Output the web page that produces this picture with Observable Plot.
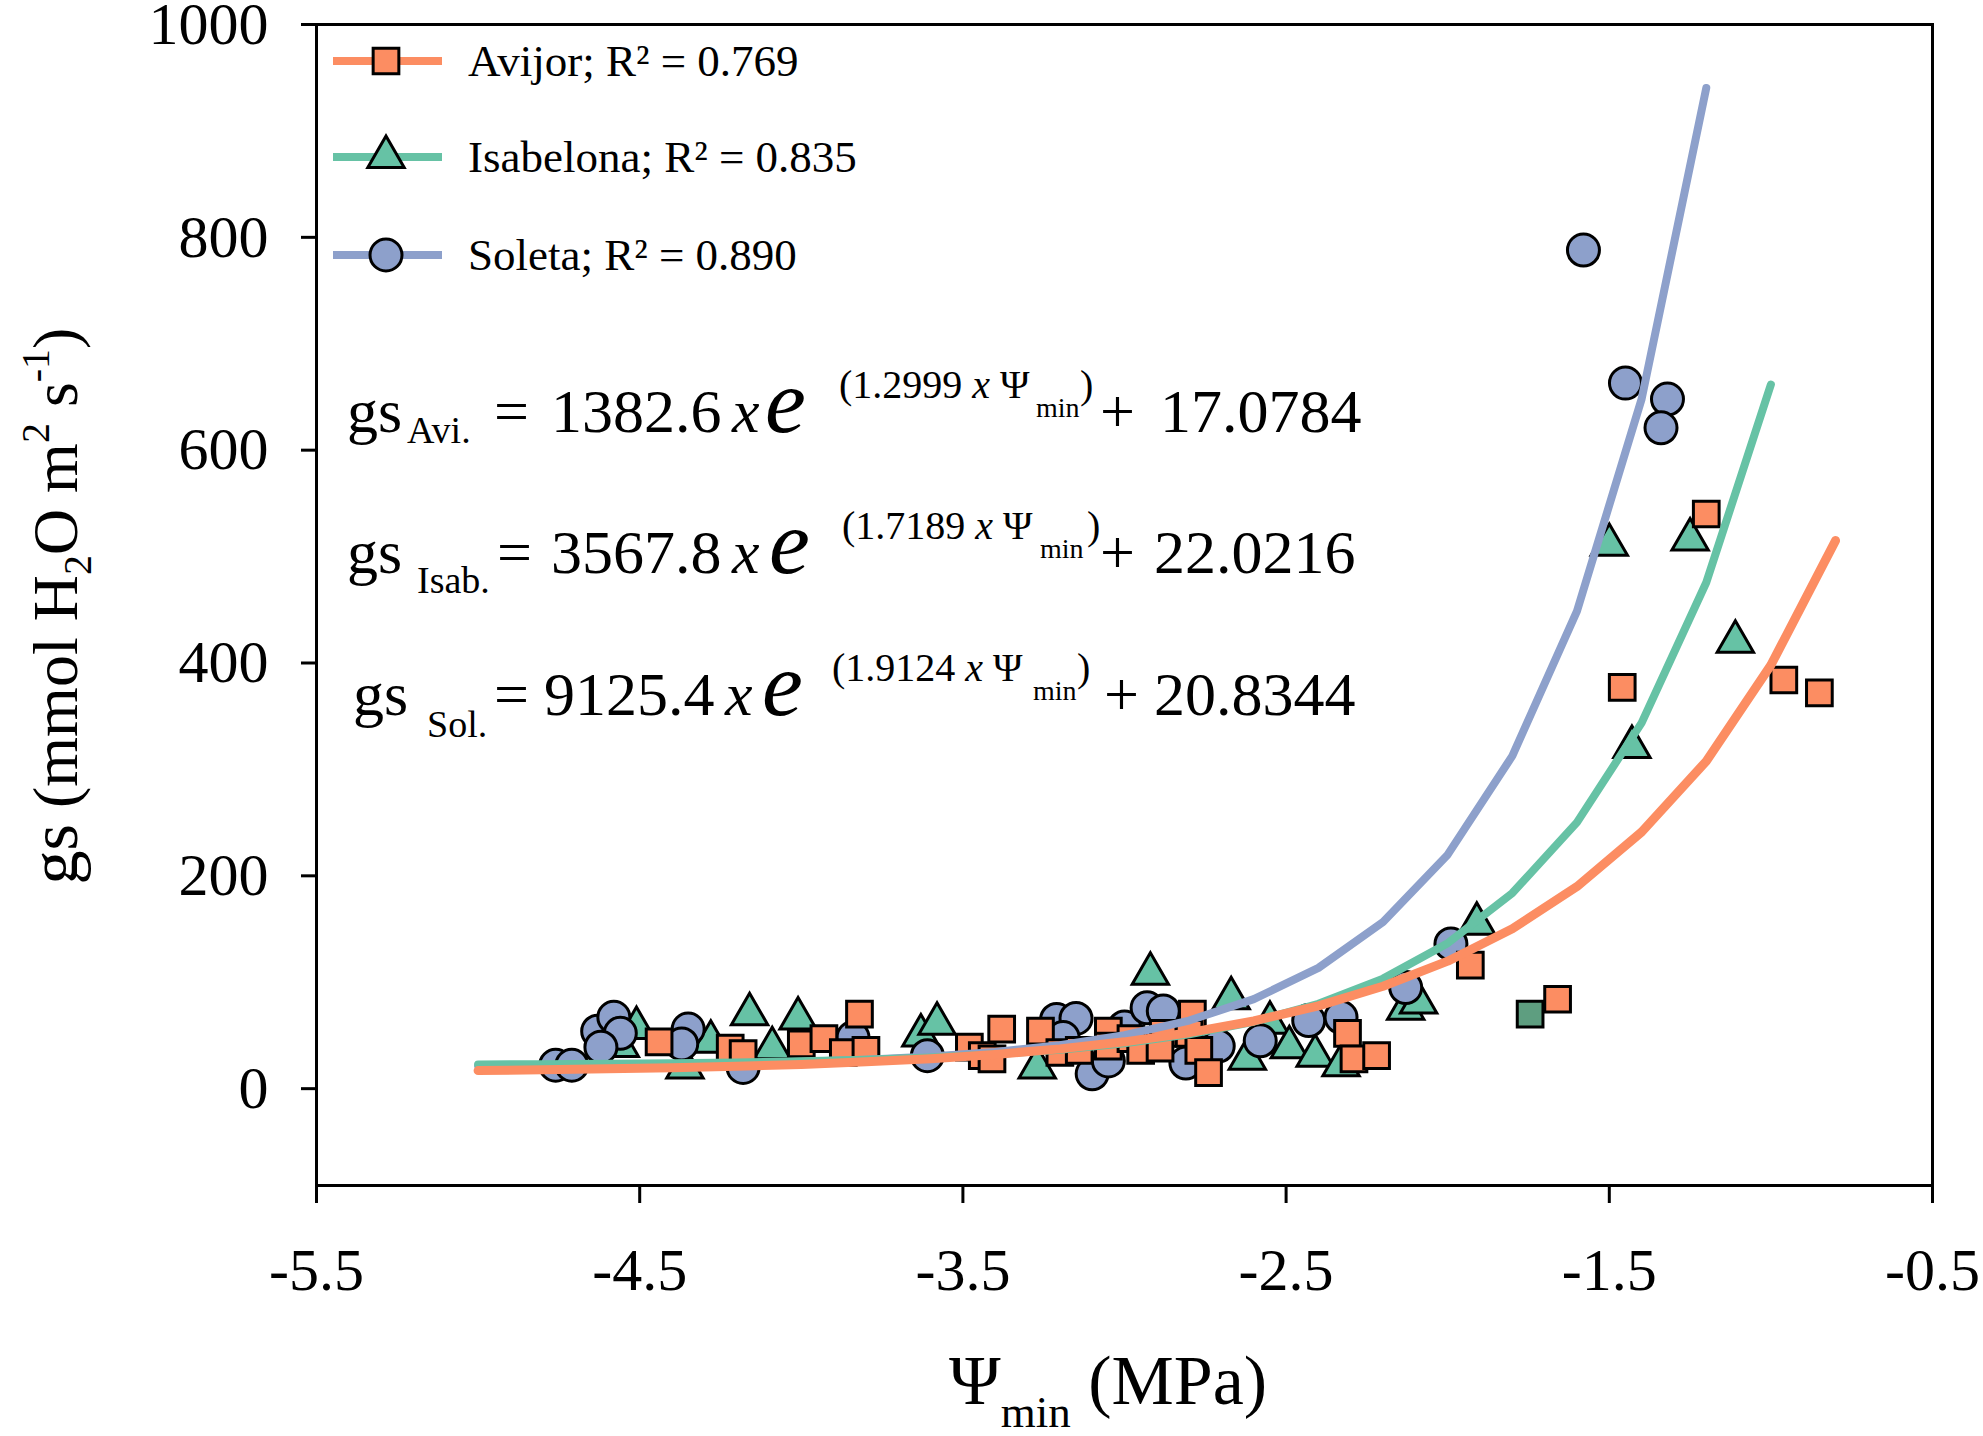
<!DOCTYPE html>
<html><head><meta charset="utf-8">
<script src="https://cdn.jsdelivr.net/npm/d3@7"></script>
<script src="https://cdn.jsdelivr.net/npm/@observablehq/plot@0.6"></script>
<style>body{margin:0;background:#fff;} svg{display:block}</style>
</head><body><div id="chart"></div>
<script>
// ---- data ----
const xTicks = [-5.5, -4.5, -3.5, -2.5, -1.5, -0.5];
const yTicks = [0, 200, 400, 600, 800, 1000];
const cultivars = ["Avijor", "Isabelona", "Soleta"];
const r2Values = ["0.769", "0.835", "0.890"];
const colors = ["#FC8D62", "#66C2A5", "#8DA0CB"];

const avijorX = [-4.44,-4.22,-4.18,-4.00,-3.93,-3.82,-3.87,-3.80,-3.48,-3.44,-3.41,-3.38,-3.26,-3.20,-3.14,-3.05,-3.05,-2.98,-2.95,-2.88,-2.89,-2.79,-2.80,-2.77,-2.74,-2.31,-2.29,-2.22,-1.93,-1.66,-1.46,-1.20,-0.96,-0.85];
const avijorY = [44,38,33,42,47,70,34,36,39,31,28,56,54,34,36,54,40,47,36,52,38,70,52,36,15,52,28,31,116,84,377,540,384,372];
const oddX = [-1.745];
const oddY = [70];

const isabX = [-4.56,-4.51,-4.36,-4.28,-4.16,-4.09,-4.01,-3.63,-3.58,-3.27,-2.92,-2.67,-2.62,-2.55,-2.49,-2.41,-2.33,-2.13,-2.09,-1.91,-1.50,-1.25,-1.11,-1.43];
const isabY = [40,57,20,44,70,38,66,50,61,20,108,85,28,62,39,31,22,75,81,155,511,516,420,321];

const solX = [-4.76,-4.71,-4.63,-4.58,-4.56,-4.62,-4.35,-4.37,-4.18,-3.84,-3.61,-3.21,-3.15,-3.19,-3.10,-3.05,-3.00,-2.93,-2.88,-2.81,-2.74,-2.71,-2.58,-2.43,-2.33,-2.13,-1.99,-1.58,-1.45,-1.32,-1.34];
const solY = [22,22,54,67,52,39,56,42,20,48,31,65,66,48,14,26,58,76,73,24,42,40,45,64,67,95,136,788,663,648,621];

// fitted curves as drawn (sampled every 0.2 MPa)
const fitX = [-5.0,-4.8,-4.6,-4.4,-4.2,-4.0,-3.8,-3.6,-3.4,-3.2,-3.0,-2.8,-2.6,-2.4,-2.2,-2.0,-1.8,-1.6,-1.4,-1.2,-1.0,-0.8];
const avijorFit = [17.0,17.8,18.6,19.6,21.0,22.8,25.2,28.2,32.2,37.4,44.0,52.6,63.6,77.8,96.3,119.8,150.3,189.9,241.2,307.7,398.0,515.0];
const isabFit = [22.7,23.0,23.3,23.9,24.6,25.7,27.2,29.4,32.4,36.6,42.6,51.0,62.9,79.7,103.4,136.7,183.8,250.2,343.8,475.6,661.7];
const solFit = [21.5,21.8,22.2,22.9,23.8,25.2,27.2,30.2,34.5,40.9,50.3,64.0,84.1,113.5,156.7,219.9,312.7,448.7,648.1,940.3];

const eqSubs = ["Avi.", "Isab.", "Sol."];
const eqA = ["1382.6", "3567.8", "9125.4"];
const eqB = ["1.2999", "1.7189", "1.9124"];
const eqC = ["17.0784", "22.0216", "20.8344"];

// ---- tables ----
const pts = (xs, ys) => xs.map((x, i) => ({x, y: ys[i]}));
const avijor = pts(avijorX, avijorY);
const odd = pts(oddX, oddY);
const isab = pts(isabX, isabY);
const sol = pts(solX, solY);
const avijorLine = pts(fitX.slice(0, avijorFit.length), avijorFit);
const isabLine = pts(fitX.slice(0, isabFit.length), isabFit);
const solLine = pts(fitX.slice(0, solFit.length), solFit);

const FONT = "Liberation Serif";
const rSq = 14.5, rCi = 16, rTr = 13.5;

const svg = Plot.plot({
  width: 1983, height: 1436,
  marginLeft: 316, marginRight: 51, marginTop: 24, marginBottom: 251,
  style: {fontFamily: FONT, fontSize: "60px", background: "#fff", color: "#000"},
  x: {domain: [-5.5, -0.5], label: null},
  y: {domain: [-91, 1000], label: null},
  marks: [
    Plot.axisX({ticks: xTicks, tickFormat: d => d.toFixed(1), tickSize: 18, tickPadding: 44, strokeWidth: 3, fontSize: 60, label: null}),
    Plot.axisY({ticks: yTicks, tickFormat: d => String(d), tickSize: 15, tickPadding: 33, strokeWidth: 3, fontSize: 60, label: null}),
    Plot.dot(isab, {x: "x", y: "y", symbol: "triangle", r: rTr, fill: colors[1], stroke: "#000", strokeWidth: 3}),
    Plot.dot(sol, {x: "x", y: "y", symbol: "circle", r: rCi, fill: colors[2], stroke: "#000", strokeWidth: 3}),
    Plot.dot(avijor, {x: "x", y: "y", symbol: "square", r: rSq, fill: colors[0], stroke: "#000", strokeWidth: 3}),
    Plot.dot(odd, {x: "x", y: "y", symbol: "square", r: rSq, fill: "#5E9E80", stroke: "#000", strokeWidth: 3}),
    Plot.line(solLine, {x: "x", y: "y", stroke: colors[2], strokeWidth: 8}),
    Plot.line(isabLine, {x: "x", y: "y", stroke: colors[1], strokeWidth: 8}),
    Plot.line(avijorLine, {x: "x", y: "y", stroke: colors[0], strokeWidth: 9}),
    Plot.frame({stroke: "#000", strokeWidth: 3})
  ]
});
document.getElementById("chart").appendChild(svg);

// ---- annotations (legend, equations, axis titles) ----
const s = d3.select(svg);
const ann = s.append("g").attr("text-anchor", "start").attr("font-family", FONT).attr("fill", "#000");

// legend
const legRows = [61, 157, 255];
const legSym = [d3.symbolSquare, d3.symbolTriangle, d3.symbolCircle];
const legR = [rSq, rTr, rCi];
cultivars.forEach((name, i) => {
  const y = legRows[i];
  ann.append("line").attr("x1", 333).attr("x2", 442).attr("y1", y).attr("y2", y)
    .attr("stroke", colors[i]).attr("stroke-width", 8);
  ann.append("path").attr("transform", `translate(386,${y})`)
    .attr("d", d3.symbol(legSym[i], Math.PI * legR[i] * legR[i])())
    .attr("fill", colors[i]).attr("stroke", "#000").attr("stroke-width", 3);
  ann.append("text").attr("x", 468).attr("y", y + 15).attr("font-size", 45)
    .text(`${name}; R² = ${r2Values[i]}`);
});

// equations
const eqLayout = [
  {y: 432, gs: 347, sub: 407, subDy: 11, eq: 494, a: 551, x: 732, e: 765, sup: 839, min: 1036, close: 1080, plus: 1100, c: 1160},
  {y: 573, gs: 347, sub: 417, subDy: 20, eq: 497, a: 551, x: 732, e: 769, sup: 842, min: 1040, close: 1087, plus: 1100, c: 1154},
  {y: 715, gs: 353, sub: 427, subDy: 22, eq: 494, a: 544, x: 725, e: 762, sup: 832, min: 1033, close: 1077, plus: 1104, c: 1154}
];
eqLayout.forEach((L, i) => {
  const t = ann.append("text").attr("font-size", 62);
  const sp = (x, y, txt, size, italic) => {
    const ts = t.append("tspan").attr("x", x).attr("y", y).text(txt);
    if (size) ts.attr("font-size", size);
    if (italic) ts.attr("font-style", "italic");
    return ts;
  };
  sp(L.gs, L.y, "gs");
  sp(L.sub, L.y + L.subDy, eqSubs[i], 38);
  sp(L.eq, L.y, "=");
  sp(L.a, L.y, eqA[i]);
  sp(L.x, L.y, "x", null, true);
  sp(L.e, L.y, "e", 92, true);
  sp(L.sup, L.y - 34, `(${eqB[i]} `, 40);
  t.append("tspan").attr("font-size", 40).attr("font-style", "italic").text("x");
  t.append("tspan").attr("font-size", 40).text(" Ψ");
  sp(L.min, L.y - 15, "min", 28);
  sp(L.close, L.y - 34, ")", 40);
  sp(L.plus, L.y, "+");
  sp(L.c, L.y, eqC[i]);
});

// x axis title
const xt = ann.append("text").attr("font-size", 70).attr("x", 949).attr("y", 1404);
xt.append("tspan").text("Ψ");
xt.append("tspan").attr("font-size", 45).attr("dy", 23).text("min");
xt.append("tspan").attr("dy", -23).text(" (MPa)");

// y axis title
const yt = ann.append("text").attr("font-size", 64)
  .attr("text-anchor", "middle").attr("transform", "translate(77,606) rotate(-90)");
yt.append("tspan").attr("font-size", 68).text("gs");
yt.append("tspan").text(" (mmol H");
yt.append("tspan").attr("font-size", 40).attr("dy", 14).text("2");
yt.append("tspan").attr("dy", -14).text("O m");
yt.append("tspan").attr("font-size", 40).attr("dy", -28).text("2");
yt.append("tspan").attr("dy", 28).text(" s");
yt.append("tspan").attr("font-size", 40).attr("dy", -28).text("-1");
yt.append("tspan").attr("dy", 28).text(")");
</script>
</body></html>
